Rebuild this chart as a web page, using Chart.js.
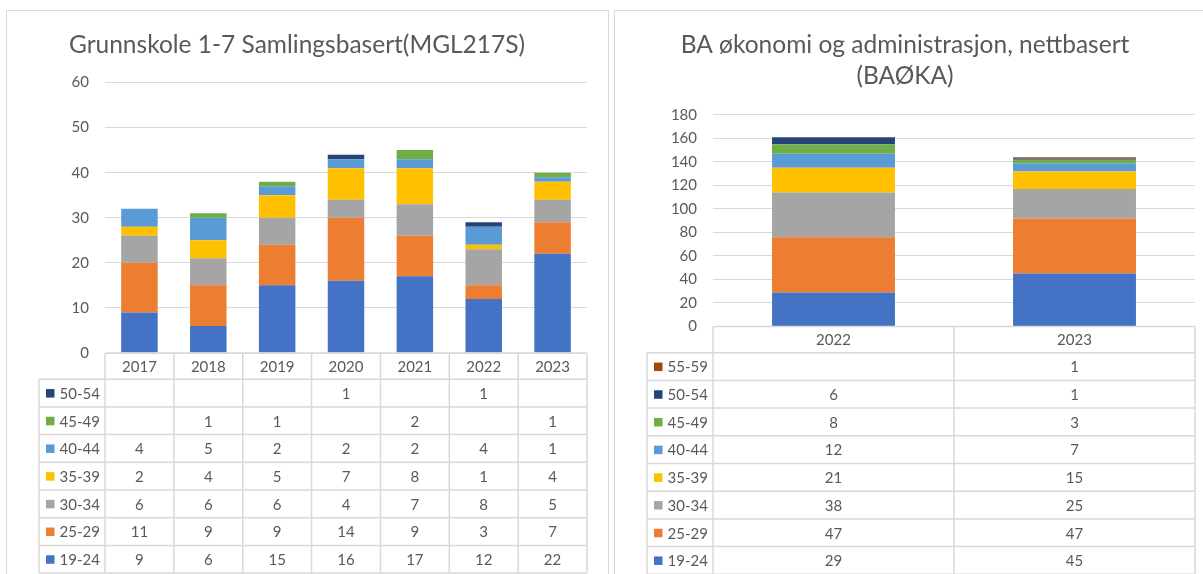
<!DOCTYPE html>
<html>
<head>
<meta charset="utf-8">
<script src="https://cdn.jsdelivr.net/npm/chart.js@4.4.1/dist/chart.umd.min.js"></script>
<style>
  body { margin: 0; background: #fff; width: 1203px; height: 574px; overflow: hidden; position: relative; }
  .panel { position: absolute; border: 1px solid #d9d9d9; box-sizing: border-box; background: #fff; }
  .panel canvas { position: absolute; left: 0; top: 0; }
</style>
</head>
<body>
<div class="panel" style="left:6px;top:10px;width:603px;height:580px">
  <canvas id="mgl" width="601" height="563"></canvas>
</div>
<div class="panel" style="left:614px;top:10px;width:600px;height:580px">
  <canvas id="baoka" width="588" height="563"></canvas>
</div>
<script>
const ageGroups = ['19-24', '25-29', '30-34', '35-39', '40-44', '45-49', '50-54', '55-59']
const ageColors = ['#4472C4', '#ED7D31', '#A5A5A5', '#FFC000', '#5B9BD5', '#70AD47', '#264478', '#9E480E']

// Grunnskole 1-7 Samlingsbasert (MGL217S)
const mglYears = ['2017', '2018', '2019', '2020', '2021', '2022', '2023']
const mgl19_24 = [9, 6, 15, 16, 17, 12, 22]
const mgl25_29 = [11, 9, 9, 14, 9, 3, 7]
const mgl30_34 = [6, 6, 6, 4, 7, 8, 5]
const mgl35_39 = [2, 4, 5, 7, 8, 1, 4]
const mgl40_44 = [4, 5, 2, 2, 2, 4, 1]
const mgl45_49 = [null, 1, 1, null, 2, null, 1]
const mgl50_54 = [null, null, null, 1, null, 1, null]

// BA økonomi og administrasjon, nettbasert (BAØKA)
const baokaYears = ['2022', '2023']
const baoka19_24 = [29, 45]
const baoka25_29 = [47, 47]
const baoka30_34 = [38, 25]
const baoka35_39 = [21, 15]
const baoka40_44 = [12, 7]
const baoka45_49 = [8, 3]
const baoka50_54 = [6, 1]
const baoka55_59 = [null, 1]

const textColor = '#595959'
const lineColor = '#d9d9d9'
const fontFamily = 'Lato, "Open Sans", sans-serif'

// Excel style data table under the plot, aligned on the x scale columns
const dataTable = {
  id: 'dataTable',
  afterDraw(chart, args, opts) {
    const { ctx, chartArea: a, scales: { x } } = chart
    const n = chart.data.labels.length
    const colW = a.width / n
    const rows = chart.data.datasets.slice().reverse()
    const hTop = a.bottom
    const hBot = a.bottom + opts.headerHeight
    const bottom = hBot + rows.length * opts.rowHeight
    const left = opts.legendLeft

    ctx.save()
    ctx.strokeStyle = lineColor
    ctx.lineWidth = 1.5
    ctx.beginPath()
    ctx.moveTo(a.left, hTop); ctx.lineTo(a.right, hTop)
    for (let r = 0; r <= rows.length; r++) {
      const y = hBot + r * opts.rowHeight
      ctx.moveTo(left, y); ctx.lineTo(a.right, y)
    }
    ctx.moveTo(left, hBot); ctx.lineTo(left, bottom)
    for (let i = 0; i < n; i++) {
      const xl = x.getPixelForValue(i) - colW / 2
      ctx.moveTo(xl, hTop); ctx.lineTo(xl, bottom)
    }
    ctx.moveTo(a.right, hTop); ctx.lineTo(a.right, bottom)
    ctx.stroke()

    ctx.font = '15px ' + fontFamily
    ctx.fillStyle = textColor
    ctx.textAlign = 'center'
    ctx.textBaseline = 'middle'
    chart.data.labels.forEach((lab, i) => {
      ctx.fillText(lab, x.getPixelForValue(i), (hTop + hBot) / 2 + 1)
    })

    rows.forEach((ds, r) => {
      const cy = hBot + (r + 0.5) * opts.rowHeight + 1
      ctx.fillStyle = ds.backgroundColor
      ctx.fillRect(left + 7, cy - 5, 8.5, 8.5)
      ctx.fillStyle = textColor
      ctx.textAlign = 'left'
      ctx.fillText(ds.label, left + 20.5, cy)
      ctx.textAlign = 'center'
      ds.data.forEach((v, i) => {
        if (v !== null) ctx.fillText(String(v), x.getPixelForValue(i), cy)
      })
    })
    ctx.restore()
  }
}

function makeChart(id, labels, series, opts) {
  const datasets = series.map((data, i) => ({
    label: ageGroups[i],
    data,
    backgroundColor: ageColors[i],
    borderWidth: 0,
    barPercentage: opts.barPct,
    categoryPercentage: 1
  }))
  return new Chart(document.getElementById(id), {
    type: 'bar',
    data: { labels, datasets },
    plugins: [dataTable],
    options: {
      responsive: false,
      animation: false,
      layout: { padding: { left: 0, top: 0, right: opts.padRight, bottom: opts.padBottom } },
      plugins: {
        legend: { display: false },
        tooltip: { enabled: false },
        title: {
          display: true,
          text: opts.title,
          color: textColor,
          font: { family: fontFamily, size: 24.5, weight: 'normal', lineHeight: 1.265 },
          padding: { top: opts.titleTop, bottom: opts.titleBottom }
        },
        dataTable: { headerHeight: 26.2, rowHeight: 27.7, legendLeft: 32 }
      },
      scales: {
        x: { stacked: true, display: false },
        y: {
          stacked: true,
          min: 0,
          max: opts.max,
          border: { display: false },
          grid: { color: lineColor, lineWidth: 1, drawTicks: false },
          ticks: { stepSize: opts.step, padding: 16, color: textColor, font: { family: fontFamily, size: 15 } },
          afterFit(scale) { scale.width = 98 }
        }
      }
    }
  })
}

makeChart('mgl', mglYears,
  [mgl19_24, mgl25_29, mgl30_34, mgl35_39, mgl40_44, mgl45_49, mgl50_54],
  { title: 'Grunnskole 1-7 Samlingsbasert(MGL217S)', max: 60, step: 10, barPct: 0.53,
    padRight: 21, padBottom: 221, titleTop: 18.5, titleBottom: 22 })

makeChart('baoka', baokaYears,
  [baoka19_24, baoka25_29, baoka30_34, baoka35_39, baoka40_44, baoka45_49, baoka50_54, baoka55_59],
  { title: ['BA økonomi og administrasjon, nettbasert', '(BAØKA)'], max: 180, step: 20, barPct: 0.51,
    padRight: 8, padBottom: 247.5, titleTop: 18.5, titleBottom: 23.5 })
</script>
</body>
</html>
